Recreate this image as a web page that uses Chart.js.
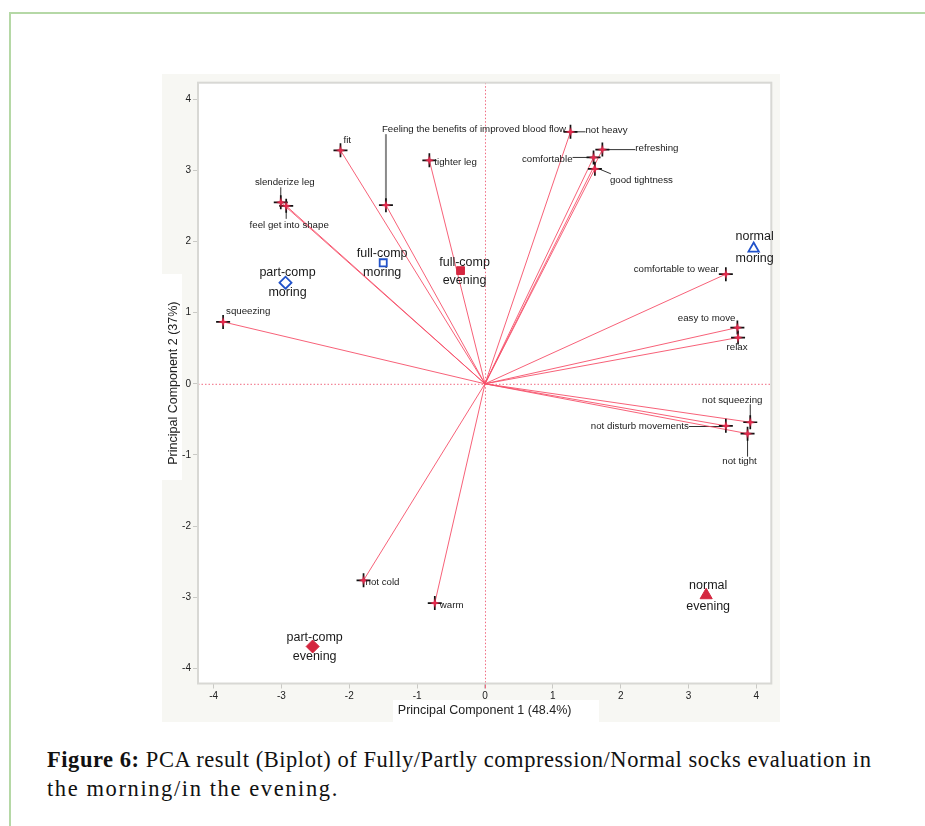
<!DOCTYPE html>
<html>
<head>
<meta charset="utf-8">
<script src="https://cdn.jsdelivr.net/npm/chart.js@4.4.1/dist/chart.umd.min.js"></script>
<style>
  html, body { margin: 0; padding: 0; background: #fff; }
  body { width: 925px; height: 826px; position: relative; overflow: hidden; }
  #frame { position: absolute; left: 9px; top: 12px; width: 960px; height: 900px;
           border-top: 2px solid #b5d8a6; border-left: 2px solid #b5d8a6; }
  #panel { position: absolute; left: 162px; top: 74px; width: 618px; height: 648px; }
  #caption { position: absolute; left: 47px; top: 745px; width: 870px; white-space: nowrap;
             font-family: "Liberation Serif", "DejaVu Serif", serif; font-size: 22.5px;
             letter-spacing: 0.55px; line-height: 29px; color: #111; }
  #caption b { font-weight: bold; }
  #caption .l2 { letter-spacing: 1.6px; }
</style>
</head>
<body>
<div id="frame"></div>
<div id="panel"><canvas id="biplot" width="618" height="648"></canvas></div>
<div id="caption"><b>Figure 6:</b> PCA result (Biplot) of Fully/Partly compression/Normal socks evaluation in<br><span class="l2">the morning/in the evening.</span></div>

<script>
// ---- variable loadings (arrows) ----
const varNames = [
  'fit',
  'Feeling the benefits of improved blood flow',
  'tighter leg',
  'slenderize leg',
  'feel get into shape',
  'squeezing',
  'not heavy',
  'refreshing',
  'comfortable',
  'good tightness',
  'comfortable to wear',
  'easy to move',
  'relax',
  'not squeezing',
  'not disturb movements',
  'not tight',
  'not cold',
  'warm'
];
const varPC1 = [-2.13, -1.46, -0.82, -3.01, -2.93, -3.86, 1.26, 1.73, 1.60, 1.62, 3.55, 3.72, 3.73, 3.91, 3.55, 3.87, -1.79, -0.74];
const varPC2 = [ 3.28,  2.51,  3.14,  2.55,  2.50,  0.87, 3.54, 3.29, 3.18, 3.02, 1.54, 0.79, 0.65, -0.54, -0.59, -0.70, -2.76, -3.08];

// ---- observation scores ----
const obsProduct = ['part-comp', 'full-comp', 'full-comp', 'normal', 'normal', 'part-comp'];
const obsTime    = ['moring', 'moring', 'evening', 'moring', 'evening', 'evening'];
const obsPC1 = [-2.94, -1.50, -0.36, 3.96, 3.26, -2.54];
const obsPC2 = [ 1.42,  1.70,  1.59, 1.90, -2.97, -3.69];

// ---- axes ----
const xTicks = [-4, -3, -2, -1, 0, 1, 2, 3, 4];
const yTicks = [-4, -3, -2, -1, 0, 1, 2, 3, 4];
const xTitle = 'Principal Component 1 (48.4%)';
const yTitle = 'Principal Component 2 (37%)';

// label placement for each loading, in pixels from its marker
const varLabelLayout = [
  { dx: 3,   dy: -10, align: 'left' },
  { dx: -4,  dy: -76, align: 'left',   leader: [0, -71, 0, 0], grey: true },
  { dx: 5,   dy: 2,   align: 'left' },
  { dx: 4,   dy: -20, align: 'center', leader: [0, -15, 0, 0] },
  { dx: 3,   dy: 19,  align: 'center', leader: [0, 0, 0, 13] },
  { dx: 3,   dy: -11, align: 'left' },
  { dx: 15,  dy: -1.5, align: 'left',  leader: [4, 0, 15, 0] },
  { dx: 33,  dy: -1.5, align: 'left',  leader: [5, 0, 33, 0] },
  { dx: -21, dy: 1.7, align: 'right',  leader: [-21, 0, -4, 0] },
  { dx: 15,  dy: 11,  align: 'left',   leader: [4, 0, 16, 5] },
  { dx: -7,  dy: -5,  align: 'right' },
  { dx: -2,  dy: -9,  align: 'right' },
  { dx: -1,  dy: 10,  align: 'center' },
  { dx: -18, dy: -22, align: 'center', leader: [0, -18, 0, 0] },
  { dx: -37, dy: 0.7, align: 'right',  leader: [-37, 0.7, -3, 0.7] },
  { dx: -8,  dy: 28,  align: 'center', leader: [0, 0, 0, 23] },
  { dx: 2,   dy: 2,   align: 'left' },
  { dx: 5,   dy: 2,   align: 'left' }
];
const obsLabelLayout = [
  { dx: 2,  up: -10,  down: 10 },
  { dx: -1, up: -9.5, down: 10 },
  { dx: 4,  up: -8,   down: 9.5 },
  { dx: 1,  up: -12,  down: 10 },
  { dx: 2,  up: -9.5, down: 11 },
  { dx: 2,  up: -9,   down: 10 }
];

const RED = '#e6284c';
const ARROW = 'rgba(246, 80, 105, 0.9)';
const BLUE = '#2152c9';
const SANS = '"Liberation Sans", Arial, Helvetica, sans-serif';

// small four-pointed red star used at each arrow tip
function makeStar() {
  const c = document.createElement('canvas');
  c.width = 10; c.height = 10;
  const g = c.getContext('2d');
  g.fillStyle = RED;
  g.beginPath();
  g.moveTo(5, 0); g.lineTo(6.2, 3.8); g.lineTo(10, 5); g.lineTo(6.2, 6.2);
  g.lineTo(5, 10); g.lineTo(3.8, 6.2); g.lineTo(0, 5); g.lineTo(3.8, 3.8);
  g.closePath(); g.fill();
  return c;
}
const starImg = makeStar();

const arrowSets = varNames.map((name, i) => ({
  type: 'line',
  label: name,
  data: [{ x: 0, y: 0 }, { x: varPC1[i], y: varPC2[i] }],
  borderColor: ARROW,
  borderWidth: 1,
  pointRadius: 0,
  fill: false,
  order: 5
}));

const tips = varNames.map((n, i) => ({ x: varPC1[i], y: varPC2[i] }));

const obsStyle = obsProduct.map(p => p === 'part-comp' ? 'rectRot' : (p === 'full-comp' ? 'rect' : 'triangle'));
const obsRadius = obsProduct.map((p, i) => {
  const ev = obsTime[i] === 'evening';
  if (p === 'part-comp') return ev ? 6.5 : 6;
  if (p === 'full-comp') return ev ? 5.5 : 5;
  return ev ? 7 : 6;
});

const decor = {
  id: 'biplotDecor',
  beforeDraw(chart) {
    const { ctx, chartArea: a, width, height } = chart;
    ctx.save();
    ctx.fillStyle = '#f7f7f3';
    ctx.fillRect(0, 0, width, height);
    // white boxes behind the axis titles
    ctx.fillStyle = '#ffffff';
    ctx.fillRect(0, 200, 20, 206);
    ctx.fillRect(231, 626, 206, 22);
    ctx.fillRect(a.left, a.top, a.right - a.left, a.bottom - a.top);
    ctx.restore();
  },
  beforeDatasetsDraw(chart) {
    const { ctx, chartArea: a, scales } = chart;
    const x0 = scales.x.getPixelForValue(0);
    const y0 = scales.y.getPixelForValue(0);
    ctx.save();
    ctx.strokeStyle = '#f06a80';
    ctx.lineWidth = 1;
    ctx.setLineDash([1.5, 2]);
    ctx.beginPath();
    ctx.moveTo(x0 + 0.5, a.top); ctx.lineTo(x0 + 0.5, a.bottom);
    ctx.moveTo(a.left, y0 + 0.5); ctx.lineTo(a.right, y0 + 0.5);
    ctx.stroke();
    ctx.setLineDash([]);
    ctx.beginPath();
    ctx.moveTo(x0 + 0.5, a.bottom); ctx.lineTo(x0 + 0.5, a.bottom + 5);
    ctx.stroke();
    // leader lines from markers to their labels
    varNames.forEach((n, i) => {
      const L = varLabelLayout[i];
      if (!L.leader) return;
      const px = scales.x.getPixelForValue(varPC1[i]);
      const py = scales.y.getPixelForValue(varPC2[i]);
      ctx.strokeStyle = L.grey ? '#8a8a8a' : '#333';
      ctx.lineWidth = L.grey ? 2 : 1;
      ctx.beginPath();
      ctx.moveTo(px + L.leader[0], py + L.leader[1]);
      ctx.lineTo(px + L.leader[2], py + L.leader[3]);
      ctx.stroke();
    });
    ctx.restore();
  },
  afterDatasetsDraw(chart) {
    const { ctx, chartArea: a, scales } = chart;
    ctx.save();
    // plot frame
    ctx.strokeStyle = '#d8d8d4';
    ctx.lineWidth = 2;
    ctx.strokeRect(a.left, a.top, a.right - a.left, a.bottom - a.top);
    // loading labels
    ctx.fillStyle = '#1a1a1a';
    ctx.font = '9.7px ' + SANS;
    ctx.textBaseline = 'middle';
    varNames.forEach((n, i) => {
      const L = varLabelLayout[i];
      const px = scales.x.getPixelForValue(varPC1[i]);
      const py = scales.y.getPixelForValue(varPC2[i]);
      ctx.textAlign = L.align;
      ctx.fillText(n, px + L.dx, py + L.dy);
    });
    // observation labels
    ctx.font = '12.5px ' + SANS;
    ctx.textAlign = 'center';
    obsProduct.forEach((p, i) => {
      const L = obsLabelLayout[i];
      const px = scales.x.getPixelForValue(obsPC1[i]);
      const py = scales.y.getPixelForValue(obsPC2[i]);
      ctx.fillText(p, px + L.dx, py + L.up);
      ctx.fillText(obsTime[i], px + L.dx, py + L.down);
    });
    ctx.restore();
  }
};

const axisCommon = {
  type: 'linear',
  grid: { drawOnChartArea: false, drawTicks: true, tickLength: 5, color: '#c9c9c5', lineWidth: 1 },
  border: { display: false },
  ticks: { font: { family: SANS, size: 10 }, color: '#222', padding: 2, maxRotation: 0 },
};

new Chart(document.getElementById('biplot'), {
  type: 'scatter',
  data: {
    datasets: [
      ...arrowSets,
      {
        label: 'loading marker',
        data: tips,
        pointStyle: 'cross',
        pointRadius: 7,
        borderColor: '#111',
        borderWidth: 1.7,
        order: 3
      },
      {
        label: 'loading tip',
        data: tips,
        pointStyle: starImg,
        pointRadius: 5,
        order: 2
      },
      {
        label: 'observations',
        data: obsPC1.map((v, i) => ({ x: v, y: obsPC2[i] })),
        pointStyle: obsStyle,
        pointRadius: obsRadius,
        borderWidth: obsTime.map(t => t === 'evening' ? 1 : 1.8),
        borderColor: obsTime.map(t => t === 'evening' ? '#d4263f' : BLUE),
        backgroundColor: obsTime.map(t => t === 'evening' ? '#d4263f' : 'rgba(255,255,255,0)'),
        order: 1
      }
    ]
  },
  options: {
    responsive: false,
    animation: false,
    devicePixelRatio: 1,
    layout: { padding: { top: 6, right: 7, left: 0, bottom: 0 } },
    plugins: { legend: { display: false }, tooltip: { enabled: false } },
    scales: {
      x: {
        ...axisCommon,
        position: 'bottom',
        min: -4.23, max: 4.22,
        afterBuildTicks: s => { s.ticks = xTicks.map(v => ({ value: v })); },
        afterFit: s => { s.height = 38.5; },
        title: { display: true, text: xTitle, color: '#222', font: { family: SANS, size: 12.5 }, padding: { top: 4, bottom: 4 } }
      },
      y: {
        ...axisCommon,
        position: 'left',
        min: -4.21, max: 4.23,
        afterBuildTicks: s => { s.ticks = yTicks.map(v => ({ value: v })); },
        afterFit: s => { s.width = 36; },
        title: { display: true, text: yTitle, color: '#222', font: { family: SANS, size: 12.5 }, padding: { top: 4, bottom: 4 } }
      }
    }
  },
  plugins: [decor]
});
</script>
</body>
</html>
